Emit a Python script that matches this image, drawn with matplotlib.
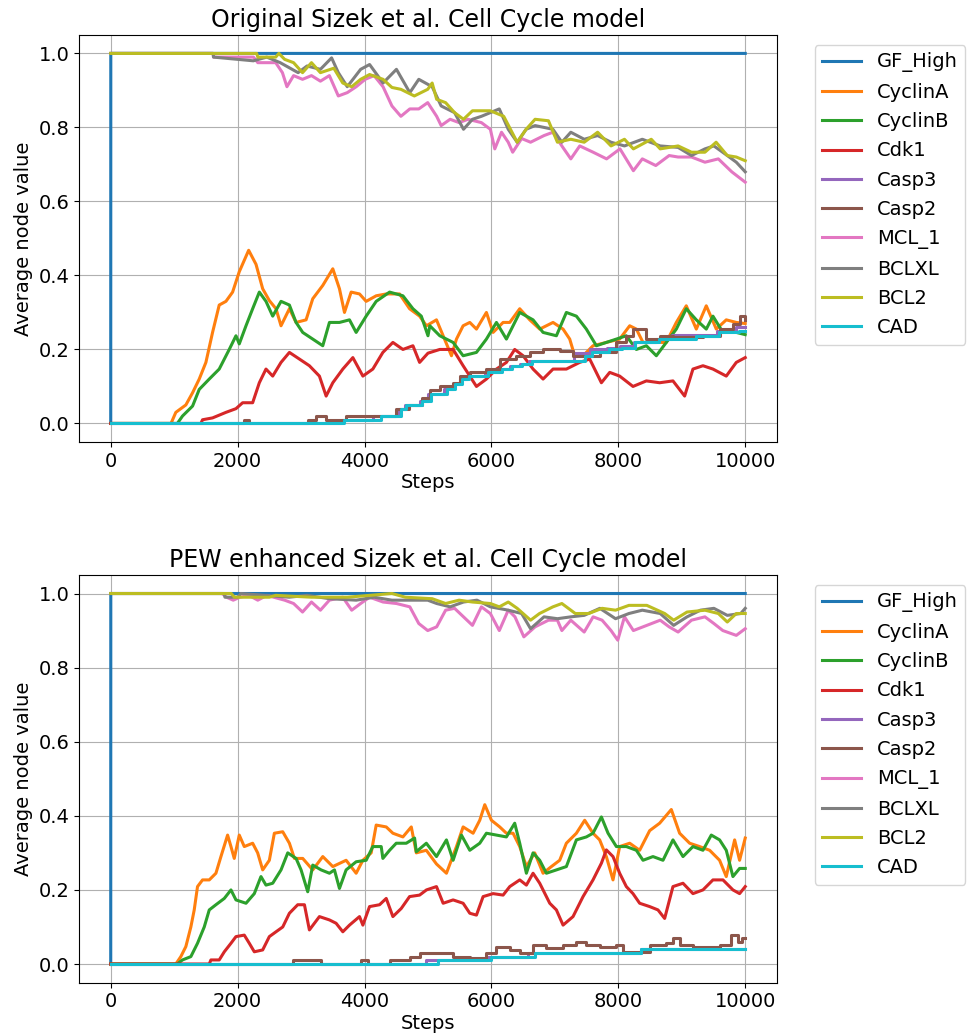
import matplotlib
matplotlib.use("Agg")
import matplotlib.pyplot as plt

labels = ["GF_High", "CyclinA", "CyclinB", "Cdk1", "Casp3", "Casp2", "MCL_1", "BCLXL", "BCL2", "CAD"]
colors = ["#1f77b4", "#ff7f0e", "#2ca02c", "#d62728", "#9467bd", "#8c564b", "#e377c2", "#7f7f7f", "#bcbd22", "#17becf"]
staircase = {"Casp3", "Casp2", "CAD"}

titles = ["Original Sizek et al. Cell Cycle model", "PEW enhanced Sizek et al. Cell Cycle model"]

# ---------------- Original model (top) ----------------
top_gf_high = [(0, 0), (1, 1), (10000, 1)]
top_cyclinA = [(0, 0), (950, 0), (1026, 0.03), (1184, 0.05), (1290, 0.083), (1395, 0.12), (1500, 0.165), (1605, 0.246),
               (1710, 0.32), (1816, 0.33), (1921, 0.355), (2026, 0.41), (2174, 0.468), (2290, 0.43), (2395, 0.364),
               (2500, 0.332), (2605, 0.31), (2684, 0.264), (2816, 0.31), (2921, 0.273), (3079, 0.28), (3184, 0.337),
               (3342, 0.373), (3500, 0.418), (3605, 0.364), (3684, 0.30), (3789, 0.355), (3921, 0.35), (4026, 0.33),
               (4184, 0.345), (4342, 0.35), (4552, 0.35), (4710, 0.31), (4868, 0.29), (4976, 0.264), (5134, 0.28),
               (5239, 0.237), (5370, 0.183), (5449, 0.228), (5554, 0.264), (5659, 0.273), (5764, 0.255), (5921, 0.30),
               (6026, 0.246), (6184, 0.273), (6289, 0.273), (6446, 0.31), (6604, 0.28), (6761, 0.255), (6971, 0.273),
               (7129, 0.255), (7234, 0.228), (7312, 0.183), (7444, 0.183), (7601, 0.21), (7811, 0.219), (8021, 0.228),
               (8179, 0.264), (8284, 0.255), (8389, 0.219), (8546, 0.219), (8756, 0.219), (8914, 0.273), (9071, 0.318),
               (9229, 0.255), (9386, 0.318), (9544, 0.255), (9701, 0.28), (9859, 0.273), (10000, 0.27)]
top_cyclinB = [(0, 0), (1050, 0), (1131, 0.02), (1290, 0.047), (1395, 0.092), (1553, 0.12), (1710, 0.147), (1868, 0.20),
               (1974, 0.237), (2026, 0.215), (2132, 0.264), (2237, 0.31), (2342, 0.355), (2447, 0.33), (2553, 0.29),
               (2684, 0.33), (2816, 0.32), (2921, 0.273), (3026, 0.246), (3184, 0.228), (3342, 0.21), (3447, 0.273),
               (3605, 0.273), (3763, 0.28), (3868, 0.246), (4026, 0.29), (4184, 0.33), (4395, 0.355), (4605, 0.345),
               (4763, 0.31), (4895, 0.29), (5000, 0.237), (5029, 0.264), (5186, 0.237), (5396, 0.219), (5554, 0.183),
               (5764, 0.192), (5921, 0.228), (6079, 0.273), (6236, 0.228), (6446, 0.30), (6656, 0.28), (6814, 0.246),
               (7024, 0.237), (7181, 0.30), (7339, 0.29), (7496, 0.255), (7654, 0.21), (7811, 0.219), (7969, 0.228),
               (8126, 0.237), (8284, 0.20), (8442, 0.21), (8599, 0.183), (8756, 0.219), (8914, 0.255), (9071, 0.31),
               (9229, 0.28), (9386, 0.255), (9491, 0.29), (9649, 0.246), (9859, 0.246), (10000, 0.24)]
top_cdk1 = [(0, 0), (1421, 0), (1447, 0.01), (1605, 0.015), (1816, 0.03), (1974, 0.04), (2079, 0.056), (2237, 0.056),
            (2342, 0.11), (2447, 0.147), (2553, 0.128), (2684, 0.165), (2816, 0.192), (2974, 0.174), (3131, 0.156),
            (3289, 0.128), (3395, 0.074), (3500, 0.11), (3658, 0.147), (3816, 0.178), (3974, 0.128), (4131, 0.147),
            (4289, 0.192), (4447, 0.219), (4605, 0.20), (4763, 0.21), (4868, 0.165), (5000, 0.19), (5186, 0.20),
            (5396, 0.20), (5554, 0.156), (5764, 0.10), (5921, 0.12), (6079, 0.147), (6236, 0.165), (6367, 0.20),
            (6499, 0.183), (6656, 0.147), (6814, 0.12), (6971, 0.147), (7181, 0.147), (7391, 0.165), (7549, 0.174),
            (7733, 0.11), (7864, 0.138), (8021, 0.128), (8231, 0.10), (8442, 0.115), (8651, 0.11), (8861, 0.115),
            (9045, 0.074), (9176, 0.147), (9334, 0.156), (9491, 0.147), (9701, 0.128), (9859, 0.165), (10000, 0.178)]
top_casp3 = [(0, 0), (3650, 0.01), (4131, 0.02), (4550, 0.04), (4640, 0.05), (4870, 0.06), (5000, 0.08), (5250, 0.092),
             (5400, 0.106), (5500, 0.12), (5620, 0.128), (5900, 0.138), (6130, 0.147), (6300, 0.156), (6450, 0.162),
             (6600, 0.17), (7300, 0.19), (7560, 0.20), (7820, 0.205), (8030, 0.21), (8240, 0.219), (8600, 0.228),
             (8850, 0.24), (9550, 0.25), (9850, 0.26), (10000, 0.26)]
top_casp2 = [(0, 0), (2100, 0.01), (2180, 0), (3105, 0.01), (3236, 0.02), (3395, 0.01), (3710, 0.02), (4500, 0.04),
             (4700, 0.05), (4900, 0.07), (5029, 0.09), (5186, 0.10), (5396, 0.11), (5501, 0.128), (5659, 0.138),
             (5921, 0.147), (6131, 0.174), (6394, 0.183), (6604, 0.192), (6814, 0.20), (7076, 0.196), (7286, 0.183),
             (7706, 0.192), (7969, 0.219), (8126, 0.237), (8231, 0.255), (8442, 0.228), (8651, 0.237), (8861, 0.233),
             (9334, 0.237), (9596, 0.255), (9806, 0.27), (9911, 0.29), (10000, 0.28)]
top_mcl1 = [(0, 1), (1614, 1), (1620, 0.99), (2250, 0.99), (2318, 0.975), (2600, 0.975), (2706, 0.948), (2777, 0.91),
            (2882, 0.94), (3023, 0.93), (3164, 0.94), (3305, 0.925), (3446, 0.94), (3587, 0.885), (3728, 0.894),
            (3869, 0.91), (4010, 0.93), (4151, 0.94), (4292, 0.91), (4432, 0.858), (4573, 0.83), (4714, 0.85),
            (4855, 0.85), (4996, 0.867), (5137, 0.83), (5208, 0.805), (5349, 0.822), (5490, 0.813), (5631, 0.822),
            (5842, 0.813), (5983, 0.795), (6053, 0.742), (6159, 0.787), (6265, 0.76), (6335, 0.733), (6476, 0.77),
            (6617, 0.76), (6829, 0.778), (6969, 0.787), (7110, 0.75), (7251, 0.715), (7392, 0.75), (7603, 0.733),
            (7815, 0.715), (8026, 0.742), (8237, 0.683), (8378, 0.715), (8590, 0.697), (8801, 0.724), (8942, 0.72),
            (9153, 0.72), (9365, 0.706), (9576, 0.715), (9788, 0.68), (10000, 0.652)]
top_bclxl = [(0, 1), (1614, 1), (1620, 0.99), (2248, 0.98), (2459, 0.99), (2671, 0.975), (2953, 0.948), (3094, 0.966),
             (3305, 0.957), (3481, 0.988), (3587, 0.948), (3728, 0.91), (3939, 0.957), (4080, 0.97), (4292, 0.92),
             (4503, 0.957), (4714, 0.894), (4855, 0.93), (5066, 0.91), (5208, 0.858), (5419, 0.84), (5560, 0.795),
             (5701, 0.822), (5842, 0.83), (6124, 0.85), (6265, 0.795), (6406, 0.76), (6547, 0.795), (6688, 0.805),
             (6969, 0.795), (7110, 0.76), (7251, 0.787), (7462, 0.768), (7674, 0.778), (7885, 0.76), (8097, 0.75),
             (8378, 0.768), (8660, 0.75), (8942, 0.746), (9153, 0.724), (9365, 0.742), (9506, 0.75), (9717, 0.724),
             (9859, 0.706), (10000, 0.68)]
top_bcl2 = [(0, 1), (2300, 1), (2318, 0.99), (2600, 0.99), (2650, 1.0), (2741, 0.984), (2882, 0.975), (3023, 0.948),
            (3164, 0.975), (3305, 0.948), (3516, 0.96), (3657, 0.92), (3798, 0.91), (3939, 0.93), (4080, 0.943),
            (4292, 0.93), (4432, 0.908), (4573, 0.903), (4785, 0.885), (4996, 0.903), (5066, 0.92), (5137, 0.876),
            (5278, 0.867), (5419, 0.84), (5560, 0.822), (5701, 0.845), (5983, 0.845), (6194, 0.83), (6406, 0.76),
            (6547, 0.795), (6688, 0.822), (6899, 0.818), (7040, 0.76), (7251, 0.768), (7462, 0.76), (7674, 0.787),
            (7885, 0.75), (8097, 0.768), (8237, 0.742), (8519, 0.768), (8660, 0.742), (8942, 0.75), (9153, 0.733),
            (9365, 0.733), (9541, 0.76), (9717, 0.724), (9859, 0.72), (10000, 0.71)]
top_cad = [(0, 0), (3684, 0.01), (4263, 0.02), (4580, 0.04), (4658, 0.05), (4900, 0.06), (5050, 0.08), (5300, 0.092),
           (5420, 0.106), (5530, 0.12), (5640, 0.128), (5950, 0.138), (6160, 0.147), (6320, 0.156), (6480, 0.162),
           (6640, 0.17), (7480, 0.183), (7590, 0.192), (7850, 0.20), (8060, 0.205), (8270, 0.219), (8640, 0.228),
           (9220, 0.237), (9580, 0.246), (9900, 0.25), (10000, 0.25)]

# ---------------- PEW enhanced model (bottom) ----------------
bot_gf_high = [(0, 0), (1, 1), (10000, 1)]
bot_cyclinA = [(0, 0), (1026, 0), (1105, 0.02), (1184, 0.047), (1263, 0.10), (1316, 0.146), (1368, 0.209), (1447, 0.227),
               (1553, 0.227), (1658, 0.245), (1737, 0.29), (1842, 0.348), (1895, 0.317), (1947, 0.285), (2026, 0.348),
               (2105, 0.317), (2237, 0.326), (2316, 0.30), (2395, 0.254), (2500, 0.28), (2579, 0.353), (2711, 0.357),
               (2816, 0.326), (2895, 0.285), (3026, 0.285), (3184, 0.254), (3342, 0.29), (3500, 0.263), (3710, 0.28),
               (3868, 0.245), (3974, 0.28), (4105, 0.30), (4184, 0.375), (4342, 0.37), (4447, 0.353), (4605, 0.343),
               (4737, 0.37), (4816, 0.30), (4974, 0.307), (5134, 0.27), (5291, 0.245), (5449, 0.317), (5554, 0.37),
               (5711, 0.353), (5816, 0.388), (5895, 0.43), (6000, 0.388), (6131, 0.37), (6236, 0.353), (6341, 0.353),
               (6446, 0.317), (6551, 0.263), (6682, 0.30), (6814, 0.245), (6945, 0.263), (7076, 0.28), (7181, 0.326),
               (7339, 0.353), (7470, 0.388), (7601, 0.353), (7706, 0.335), (7811, 0.29), (7916, 0.227), (8021, 0.317),
               (8179, 0.326), (8336, 0.307), (8494, 0.36), (8651, 0.38), (8835, 0.417), (8966, 0.353), (9124, 0.326),
               (9281, 0.317), (9439, 0.307), (9596, 0.28), (9701, 0.236), (9833, 0.335), (9911, 0.28), (10000, 0.34)]
bot_cyclinB = [(0, 0), (1050, 0), (1131, 0.011), (1263, 0.02), (1368, 0.056), (1474, 0.10), (1553, 0.146), (1658, 0.16),
               (1790, 0.177), (1895, 0.20), (1974, 0.173), (2132, 0.164), (2263, 0.19), (2368, 0.236), (2447, 0.213),
               (2553, 0.218), (2684, 0.254), (2790, 0.30), (2921, 0.285), (3000, 0.254), (3105, 0.195), (3184, 0.267),
               (3316, 0.254), (3447, 0.245), (3526, 0.254), (3605, 0.204), (3710, 0.254), (3868, 0.276), (4026, 0.28),
               (4131, 0.317), (4263, 0.317), (4289, 0.285), (4395, 0.307), (4500, 0.326), (4658, 0.326), (4789, 0.34),
               (4816, 0.303), (4974, 0.326), (5134, 0.29), (5291, 0.335), (5396, 0.28), (5527, 0.348), (5659, 0.307),
               (5816, 0.326), (5921, 0.353), (6079, 0.348), (6236, 0.343), (6367, 0.38), (6446, 0.326), (6551, 0.245),
               (6656, 0.30), (6761, 0.28), (6866, 0.245), (7024, 0.254), (7181, 0.263), (7339, 0.335), (7496, 0.343),
               (7601, 0.353), (7733, 0.397), (7838, 0.353), (7969, 0.317), (8126, 0.317), (8284, 0.307), (8389, 0.28),
               (8546, 0.29), (8704, 0.28), (8861, 0.335), (9019, 0.29), (9176, 0.317), (9334, 0.307), (9465, 0.348),
               (9596, 0.335), (9701, 0.307), (9806, 0.236), (9911, 0.258), (10000, 0.258)]
bot_cdk1 = [(0, 0), (1553, 0), (1579, 0.011), (1710, 0.011), (1790, 0.033), (1895, 0.056), (1974, 0.074), (2105, 0.078),
            (2184, 0.056), (2263, 0.033), (2395, 0.038), (2500, 0.074), (2605, 0.087), (2711, 0.10), (2816, 0.137),
            (2947, 0.16), (3053, 0.16), (3131, 0.092), (3289, 0.128), (3447, 0.119), (3552, 0.11), (3658, 0.087),
            (3763, 0.105), (3921, 0.128), (3974, 0.105), (4079, 0.155), (4237, 0.16), (4342, 0.177), (4447, 0.128),
            (4579, 0.15), (4710, 0.182), (4868, 0.186), (4976, 0.20), (5134, 0.209), (5239, 0.164), (5396, 0.173),
            (5554, 0.164), (5659, 0.137), (5764, 0.132), (5869, 0.182), (6026, 0.19), (6184, 0.186), (6289, 0.209),
            (6446, 0.227), (6551, 0.213), (6656, 0.245), (6761, 0.218), (6919, 0.164), (7024, 0.146), (7129, 0.105),
            (7286, 0.128), (7444, 0.182), (7601, 0.227), (7733, 0.272), (7811, 0.308), (7916, 0.29), (8021, 0.245),
            (8126, 0.209), (8231, 0.19), (8336, 0.164), (8494, 0.155), (8625, 0.146), (8730, 0.123), (8861, 0.209),
            (9019, 0.218), (9176, 0.19), (9334, 0.20), (9491, 0.227), (9649, 0.227), (9806, 0.20), (9911, 0.19),
            (10000, 0.209)]
bot_casp3 = [(0, 0), (4976, 0.01), (5950, 0.02), (6580, 0.03), (8362, 0.04), (10000, 0.04)]
bot_casp2 = [(0, 0), (2868, 0.01), (3316, 0), (3947, 0.01), (4052, 0), (4395, 0.01), (4710, 0.02), (4868, 0.03),
             (5396, 0.02), (5659, 0.015), (5921, 0.03), (6079, 0.047), (6289, 0.038), (6446, 0.03), (6656, 0.05),
             (6866, 0.042), (7129, 0.05), (7339, 0.06), (7496, 0.05), (7706, 0.047), (7969, 0.05), (8074, 0.033),
             (8494, 0.05), (8756, 0.056), (8861, 0.07), (8966, 0.05), (9176, 0.047), (9596, 0.05), (9780, 0.078),
             (9885, 0.06), (9950, 0.07), (10000, 0.07)]
bot_mcl1 = [(0, 1), (1755, 1), (1825, 0.99), (1931, 0.982), (2037, 0.99), (2178, 0.995), (2318, 0.982), (2459, 0.995),
            (2741, 0.982), (2882, 0.973), (3023, 0.95), (3164, 0.977), (3305, 0.955), (3446, 0.982), (3657, 0.99),
            (3798, 0.955), (3939, 0.973), (4080, 0.99), (4292, 0.977), (4503, 0.973), (4714, 0.964), (4855, 0.919),
            (4996, 0.90), (5137, 0.91), (5278, 0.955), (5419, 0.96), (5560, 0.937), (5701, 0.914), (5842, 0.964),
            (5983, 0.946), (6124, 0.90), (6265, 0.955), (6371, 0.937), (6511, 0.883), (6688, 0.91), (6899, 0.928),
            (7040, 0.928), (7110, 0.90), (7251, 0.928), (7462, 0.896), (7603, 0.937), (7744, 0.928), (7885, 0.90),
            (7991, 0.874), (8097, 0.937), (8237, 0.90), (8449, 0.914), (8660, 0.928), (8801, 0.91), (8942, 0.896),
            (9153, 0.928), (9365, 0.937), (9506, 0.919), (9647, 0.90), (9859, 0.887), (10000, 0.905)]
bot_bclxl = [(0, 1), (1790, 1), (1800, 0.99), (2000, 0.99), (2050, 1.0), (2811, 0.99), (3094, 0.995), (3446, 0.986),
             (3869, 0.982), (4151, 0.99), (4432, 0.982), (4714, 0.982), (4996, 0.982), (5137, 0.973), (5349, 0.964),
             (5560, 0.977), (5772, 0.982), (5983, 0.964), (6265, 0.955), (6476, 0.946), (6617, 0.905), (6829, 0.937),
             (7040, 0.932), (7251, 0.937), (7462, 0.941), (7709, 0.96), (7956, 0.932), (8167, 0.946), (8378, 0.955),
             (8660, 0.946), (8872, 0.914), (9083, 0.937), (9294, 0.955), (9506, 0.96), (9717, 0.941), (9929, 0.946),
             (10000, 0.96)]
bot_bcl2 = [(0, 1), (1900, 1), (1950, 0.99), (2500, 0.99), (2600, 0.995), (3164, 0.99), (3728, 0.99), (4432, 1.0),
            (4644, 0.99), (5066, 0.986), (5278, 0.973), (5490, 0.982), (5701, 0.977), (5983, 0.973), (6124, 0.964),
            (6265, 0.977), (6406, 0.96), (6617, 0.928), (6758, 0.946), (6969, 0.964), (7110, 0.973), (7322, 0.946),
            (7533, 0.946), (7744, 0.96), (7956, 0.955), (8167, 0.968), (8449, 0.968), (8731, 0.946), (8872, 0.928),
            (9083, 0.95), (9365, 0.955), (9576, 0.946), (9717, 0.923), (9859, 0.946), (10000, 0.946)]
bot_cad = [(0, 0), (5160, 0.01), (6000, 0.02), (6682, 0.03), (8362, 0.04), (10000, 0.04)]

top_series = [top_gf_high, top_cyclinA, top_cyclinB, top_cdk1, top_casp3, top_casp2, top_mcl1, top_bclxl, top_bcl2, top_cad]
bot_series = [bot_gf_high, bot_cyclinA, bot_cyclinB, bot_cdk1, bot_casp3, bot_casp2, bot_mcl1, bot_bclxl, bot_bcl2, bot_cad]

fig = plt.figure(figsize=(9.74, 10.36), dpi=100)
ax_top = fig.add_axes([0.0811, 0.5734, 0.7166, 0.3929])
ax_bot = fig.add_axes([0.0811, 0.0516, 0.7166, 0.3934])

for ax, series, title in [(ax_top, top_series, titles[0]), (ax_bot, bot_series, titles[1])]:
    for name, col, data in zip(labels, colors, series):
        xs = [p[0] for p in data]
        ys = [p[1] for p in data]
        ds = "steps-post" if name in staircase else "default"
        ax.plot(xs, ys, color=col, lw=2.2, label=name, drawstyle=ds)
    ax.set_title(title, fontsize=17)
    ax.set_xlabel("Steps", fontsize=14, labelpad=2)
    ax.set_ylabel("Average node value", fontsize=14)
    ax.set_xticks([0, 2000, 4000, 6000, 8000, 10000])
    ax.set_yticks([0.0, 0.2, 0.4, 0.6, 0.8, 1.0])
    ax.tick_params(labelsize=14)
    ax.grid(True)
    ax.set_xlim(-500, 10500)
    ax.set_ylim(-0.05, 1.05)
    ax.legend(loc="upper left", bbox_to_anchor=(1.04, 1), fontsize=14, labelspacing=0.53)

fig.savefig("out.png", dpi=100)
